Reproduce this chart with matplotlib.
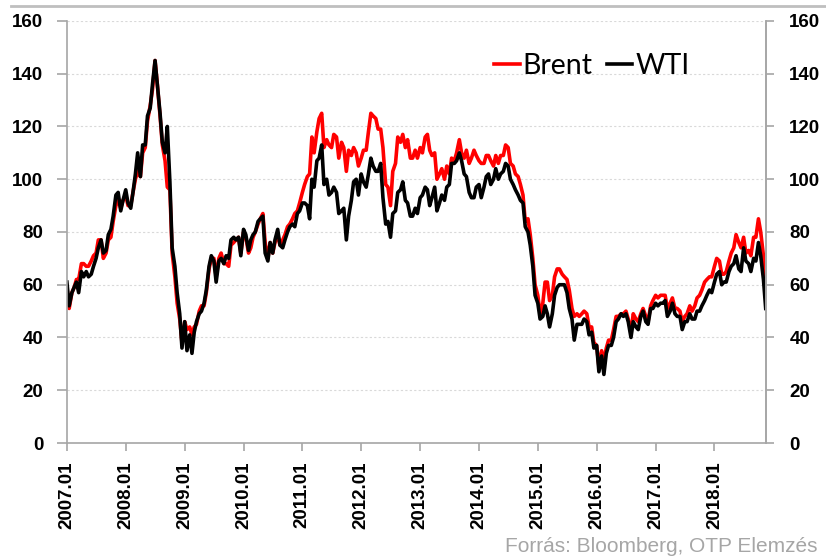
import numpy as np
import pandas as pd
import matplotlib.pyplot as plt
import matplotlib.dates as mdates
from matplotlib.lines import Line2D

# semi-monthly samples (1st and 15th of each month), Jan 2007 - Nov 2018, USD/barrel
wti_2007 = [61, 52, 57, 59, 61, 57, 65, 63, 65, 63, 64, 67, 70, 74, 77, 72, 73, 79, 81, 86, 94, 95, 88, 92]
wti_2008 = [96, 91, 89, 95, 102, 110, 101, 113, 113, 124, 127, 136, 145, 136, 125, 114, 110, 120, 99, 74, 67, 57, 49, 36]
wti_2009 = [46, 35, 41, 34, 42, 46, 49, 50, 53, 58, 67, 71, 69, 61, 69, 70, 68, 71, 70, 77, 78, 77, 78, 71]
wti_2010 = [81, 79, 73, 77, 79, 80, 84, 85, 86, 72, 69, 76, 72, 77, 81, 75, 74, 77, 80, 82, 83, 82, 87, 88]
wti_2011 = [91, 91, 90, 85, 100, 97, 107, 108, 113, 98, 100, 94, 95, 97, 95, 87, 88, 89, 77, 86, 92, 99, 100, 94]
wti_2012 = [102, 99, 97, 102, 108, 105, 103, 103, 106, 93, 83, 84, 78, 87, 88, 95, 96, 99, 92, 91, 86, 86, 89, 87]
wti_2013 = [93, 94, 97, 96, 90, 93, 97, 88, 91, 94, 92, 97, 98, 106, 106, 107, 110, 107, 102, 101, 95, 93, 93, 97]
wti_2014 = [98, 93, 97, 101, 102, 98, 100, 104, 100, 102, 103, 106, 105, 100, 98, 96, 94, 92, 91, 82, 80, 75, 67, 56]
wti_2015 = [53, 47, 48, 52, 49, 44, 49, 56, 59, 60, 60, 60, 57, 51, 47, 39, 45, 45, 45, 47, 46, 41, 42, 36]
wti_2016 = [37, 27, 33, 26, 34, 37, 37, 40, 46, 47, 49, 48, 49, 46, 40, 46, 44, 43, 48, 50, 46, 45, 51, 51]
wti_2017 = [53, 52, 53, 53, 54, 48, 50, 53, 49, 48, 48, 43, 46, 46, 49, 47, 47, 50, 50, 52, 54, 56, 58, 57]
wti_2018 = [61, 64, 65, 60, 61, 61, 65, 67, 68, 71, 66, 65, 74, 69, 68, 65, 70, 69, 76, 71, 62, 51]

brent_2007 = [59, 51, 57, 59, 62, 62, 68, 68, 67, 67, 69, 71, 72, 77, 77, 70, 72, 77, 78, 84, 90, 92, 89, 92]
brent_2008 = [94, 90, 90, 95, 100, 103, 101, 110, 112, 122, 128, 134, 145, 136, 124, 113, 107, 97, 96, 72, 63, 53, 47, 38]
brent_2009 = [46, 43, 44, 41, 44, 45, 50, 52, 52, 57, 66, 70, 70, 63, 70, 72, 68, 68, 67, 75, 76, 77, 78, 72]
brent_2010 = [80, 78, 72, 74, 78, 80, 83, 85, 87, 76, 70, 76, 72, 76, 79, 75, 77, 79, 82, 83, 85, 87, 88, 91]
brent_2011 = [95, 98, 101, 102, 116, 110, 118, 123, 125, 112, 115, 113, 112, 117, 116, 108, 114, 112, 103, 111, 109, 112, 110, 105]
brent_2012 = [108, 111, 111, 118, 125, 124, 123, 119, 119, 112, 98, 97, 90, 103, 106, 116, 114, 117, 112, 115, 108, 108, 111, 108]
brent_2013 = [112, 110, 116, 117, 111, 109, 110, 100, 102, 104, 100, 105, 102, 108, 107, 110, 115, 110, 108, 111, 106, 108, 111, 109]
brent_2014 = [107, 106, 106, 109, 109, 107, 105, 109, 106, 109, 109, 113, 112, 106, 105, 102, 101, 98, 94, 84, 85, 79, 70, 60]
brent_2015 = [56, 49, 53, 61, 61, 54, 56, 63, 66, 66, 64, 63, 62, 58, 51, 48, 49, 48, 49, 50, 49, 44, 44, 38]
brent_2016 = [37, 29, 35, 31, 36, 39, 39, 43, 48, 48, 49, 49, 50, 47, 42, 49, 47, 46, 49, 51, 48, 46, 52, 54]
brent_2017 = [56, 55, 56, 56, 56, 51, 53, 55, 51, 51, 50, 46, 48, 49, 52, 50, 52, 55, 56, 58, 61, 62, 63, 63]
brent_2018 = [67, 70, 69, 64, 64, 65, 69, 72, 74, 79, 76, 74, 78, 72, 73, 71, 78, 78, 85, 80, 71, 58]

wti = (wti_2007 + wti_2008 + wti_2009 + wti_2010 + wti_2011 + wti_2012
       + wti_2013 + wti_2014 + wti_2015 + wti_2016 + wti_2017 + wti_2018)
brent = (brent_2007 + brent_2008 + brent_2009 + brent_2010 + brent_2011 + brent_2012
         + brent_2013 + brent_2014 + brent_2015 + brent_2016 + brent_2017 + brent_2018)
dates = pd.date_range("2007-01-01", periods=len(wti), freq="SMS")

years = list(range(2007, 2019))
yticks = [0, 20, 40, 60, 80, 100, 120, 140, 160]

plt.rcParams["font.family"] = ["Lato", "DejaVu Sans"]
tick_font = dict(family="Liberation Sans", weight="bold", size=13.5)

fig = plt.figure(figsize=(8.26, 5.59), dpi=100)
ax = fig.add_axes([0.081, 0.2075, 0.846, 0.755])

ax.plot(dates, brent, color="#ff0000", lw=2.6, label="Brent")
ax.plot(dates, wti, color="#000000", lw=2.6, label="WTI")

ax.set_xlim(dates[0], dates[-1])
ax.set_ylim(0, 160)
ax.set_yticks(yticks)
ax.set_xticks([pd.Timestamp(f"{y}-01-01") for y in years])
ax.xaxis.set_major_formatter(mdates.DateFormatter("%Y.%m"))
ax.grid(axis="y", color="#d9d9d9", lw=0.8, ls=(0, (2, 2)))
ax.set_axisbelow(True)

for s in ["left", "bottom", "right"]:
    ax.spines[s].set_color("#a6a6a6")
    ax.spines[s].set_linewidth(1.2)
ax.spines["top"].set_visible(False)

ax.tick_params(axis="y", length=7, width=1.2, color="#a6a6a6", pad=10)
ax.tick_params(axis="x", length=6, width=1.2, color="#a6a6a6", labelrotation=90, pad=7)
for lab in ax.get_xticklabels() + ax.get_yticklabels():
    lab.set(**tick_font)

ax2 = ax.twinx()
ax2.set_ylim(0, 160)
ax2.set_yticks(yticks)
ax2.tick_params(axis="y", length=6, width=1.2, color="#a6a6a6", pad=11)
for lab in ax2.get_yticklabels():
    lab.set(**tick_font)
for s in ["left", "bottom", "top"]:
    ax2.spines[s].set_visible(False)
ax2.spines["right"].set_color("#a6a6a6")
ax2.spines["right"].set_linewidth(1.2)

ax.legend(loc="center", bbox_to_anchor=(0.751, 0.893), ncol=2, frameon=False,
          fontsize=20.5, handlelength=0.9, handletextpad=0.1, columnspacing=0.5)

fig.add_artist(Line2D([0.013, 1.0], [0.989, 0.989], color="#bfbfbf", lw=2))
fig.text(0.990, 0.0125, "Forrás: Bloomberg, OTP Elemzés", ha="right", va="baseline",
         color="#a6a6a6", fontsize=15, family="Liberation Sans")

fig.savefig("out.png", dpi=100)
